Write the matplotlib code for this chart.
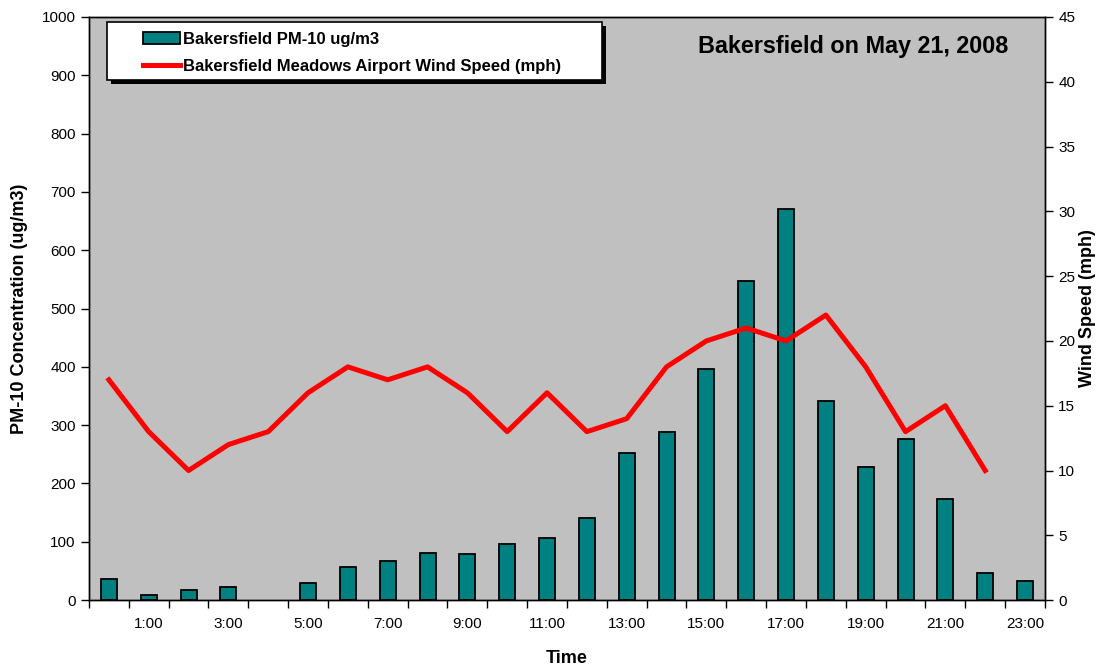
import numpy as np
import matplotlib.pyplot as plt
from matplotlib.patches import Rectangle
from matplotlib.ticker import FixedLocator, NullFormatter, FixedFormatter

plt.rcParams['font.family'] = ['Liberation Sans', 'DejaVu Sans']

# --- data ---
hours = list(range(24))
hour_labels = [f"{h}:00" for h in hours]
pm10 = [37, 8, 17, 22, np.nan, 29, 56, 67, 80, 79, 97, 106,
        141, 253, 288, 397, 548, 670, 342, 229, 276, 174, 47, 33]
wind_hours = list(range(23))
wind = [17, 13, 10, 12, 13, 16, 18, 17, 18, 16, 13, 16,
        13, 14, 18, 20, 21, 20, 22, 18, 13, 15, 10]

fig = plt.figure(figsize=(11.01, 6.69), dpi=100)
ax = fig.add_axes([0.0808, 0.103, 0.8683, 0.8716])
ax.set_facecolor('#c0c0c0')

bars = ax.bar(hours, pm10, width=0.4, color='#008080', edgecolor='black',
              linewidth=1.3, label='Bakersfield PM-10 ug/m3', zorder=2)
ax.set_xlim(-0.5, 23.5)
ax.set_ylim(0, 1000)
ax.set_yticks(range(0, 1001, 100))

# ticks between categories, labels on odd hours
ax.xaxis.set_major_locator(FixedLocator(np.arange(-0.5, 24, 1)))
ax.xaxis.set_major_formatter(NullFormatter())
odd = hours[1::2]
ax.xaxis.set_minor_locator(FixedLocator(odd))
ax.xaxis.set_minor_formatter(FixedFormatter([hour_labels[h] for h in odd]))
ax.tick_params(axis='x', which='major', length=6, width=1, direction='out')
ax.tick_params(axis='x', which='minor', length=0, pad=12, labelsize=11)
ax.tick_params(axis='y', length=6, width=1, labelsize=11)

ax.set_xlabel('Time', fontsize=13, fontweight='bold', labelpad=14)
ax.set_ylabel('PM-10 Concentration (ug/m3)', fontsize=13, fontweight='bold', labelpad=10)

ax2 = ax.twinx()
line, = ax2.plot(wind_hours, wind, color='#ff0000', linewidth=3.6,
                 label='Bakersfield Meadows Airport Wind Speed (mph)', zorder=3)
ax2.set_ylim(0, 45)
ax2.set_yticks(range(0, 46, 5))
ax2.tick_params(axis='y', length=6, width=1, labelsize=11)
ax2.set_ylabel('Wind Speed (mph)', fontsize=13, fontweight='bold', labelpad=3)

for a in (ax, ax2):
    for s in a.spines.values():
        s.set_color('black')
        s.set_linewidth(1)

# legend frame with hard shadow
bx0, by0, bw, bh = 0.0188, 0.8919, 0.5178, 0.0995
ax2.add_patch(Rectangle((bx0 + 0.004, by0 - 0.007), bw, bh, transform=ax2.transAxes,
                        facecolor='black', edgecolor='none', zorder=5))
ax2.add_patch(Rectangle((bx0, by0), bw, bh, transform=ax2.transAxes,
                        facecolor='white', edgecolor='black', linewidth=1.2, zorder=6))
leg = ax2.legend([bars, line], [bars.get_label(), line.get_label()],
                 loc='upper left', bbox_to_anchor=(0.0565, 0.975),
                 frameon=False, borderaxespad=0, borderpad=0,
                 handlelength=2.2, handletextpad=0.2, labelspacing=0.75,
                 prop={'size': 12, 'weight': 'bold'})
leg.set_zorder(7)

ax2.text(0.962, 0.950, 'Bakersfield on May 21, 2008', transform=ax2.transAxes,
         ha='right', va='center', fontsize=16.8, fontweight='bold', zorder=7)

fig.savefig('out.png', dpi=100)
